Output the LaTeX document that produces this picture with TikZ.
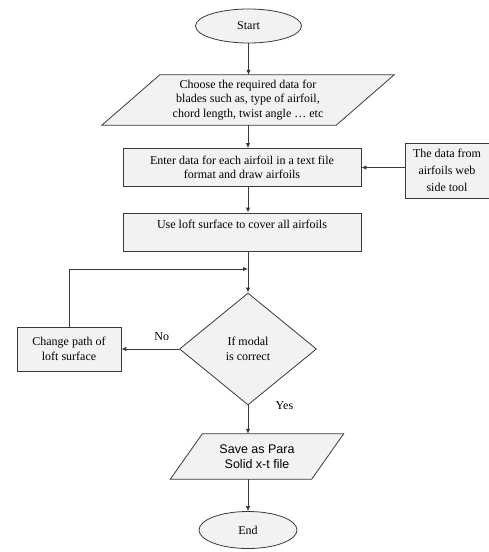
\documentclass[tikz,border=0pt]{standalone}
\usepackage{fontspec}
\setmainfont{Liberation Serif}
\newfontfamily\arialfont{Liberation Sans}
\usepackage{tikz}
\usepackage{xcolor}
\usetikzlibrary{
  positioning, arrows.meta, shapes.geometric, calc, backgrounds,
}
\definecolor{cBoxFill}     {HTML}{F2F2F2}
\definecolor{cEdge}        {HTML}{3A3A3A}
% slanted input/output box drawn round a named node
\newcommand{\ioshape}[2]{%
  \draw[flowbox] ($(#1.north west)+(#2,0)$) -- ($(#1.north east)+(#2,0)$)
    -- ($(#1.south east)-(#2,0)$) -- ($(#1.south west)-(#2,0)$) -- cycle;}

\begin{document}
\begin{tikzpicture}[x=1pt, y=-1pt,
        every node/.style={font=\fontsize{12}{14.5}\selectfont, text=black},
        flowbox/.style={draw=cEdge, fill=cBoxFill, line width=0.8pt, inner sep=1pt, align=center},
        termbox/.style={flowbox, ellipse},
        procbox/.style={flowbox, rectangle},
        iobox/.style={rectangle, inner sep=1pt, align=center},
        askbox/.style={flowbox, diamond},
        arr/.style={draw=cEdge, line width=0.8pt, -{Latex[length=5pt, width=4.5pt]}},
      ]
        \useasboundingbox (0,0) rectangle (489,552);
        \node[termbox, minimum width=106pt, minimum height=34pt] (start) at (248.5,26) {Start};
        \node[iobox, minimum width=234pt, minimum height=50pt] (choose) at (248,100)
              {Choose the required data for\\blades such as, type of airfoil,\\chord length, twist angle \dots\ etc};
        \node[procbox, minimum width=238pt, minimum height=38pt] (enter) at (242,167.5)
              {Enter data for each airfoil in a text file\\format and draw airfoils};
        \node[procbox, minimum width=84pt, minimum height=55pt,
              font=\fontsize{12}{17}\selectfont] (webdata) at (447,170.5)
              {The data from\\airfoils web\\side tool};
        \node[procbox, minimum width=238pt, minimum height=38pt] (loft) at (242,232)
              {Use loft surface to cover all airfoils\\\mbox{}};
        \node[askbox, minimum width=137pt, minimum height=112pt] (modal) at (248,349)
              {If modal\\is correct};
        \node[procbox, minimum width=104pt, minimum height=44pt] (change) at (69,349)
              {Change path of\\loft surface};
        \node[iobox, minimum width=141pt, minimum height=45pt,
              font=\arialfont\fontsize{12.5}{15.5}\selectfont] (save) at (257,456.5)
              {Save as Para\\Solid x-t file};
        \node[termbox, minimum width=98pt, minimum height=37pt] (end) at (248,530) {End};
        \coordinate (join) at (248,269);
        \begin{scope}[on background layer]
          \ioshape{choose}{29}
          \ioshape{save}{16}
        \end{scope}

        \draw[arr] (start.south) -- (start.south |- choose.north);
        \draw[arr] (choose.south -| modal) -- (enter.north -| modal);
        \draw[arr] (webdata.west |- enter.east) -- (enter.east);
        \draw[arr] (enter.south -| modal) -- (loft.north -| modal);
        \draw[arr] (loft.south -| modal) -- (modal.north);
        \draw[arr] (modal.west) -- node[above=5pt, pos=0.3] {No} (change.east);
        \draw[arr] (change.north) |- (join);
        \draw[arr] (modal.south) -- node[pos=0, anchor=west, xshift=24pt] {Yes} (modal.south |- save.north);
        \draw[arr] (save.south -| modal) -- (end.north);
      \end{tikzpicture}
\end{document}
